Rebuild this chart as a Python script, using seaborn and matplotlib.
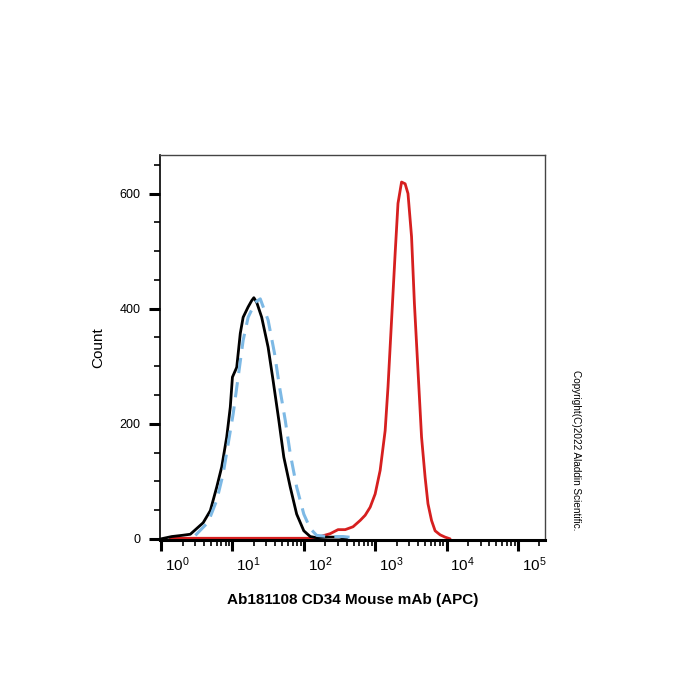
import matplotlib
matplotlib.use("Agg")
import matplotlib.pyplot as plt
import matplotlib.transforms as mtransforms
from matplotlib.ticker import MultipleLocator, LogLocator, FixedLocator, NullFormatter
import numpy as np
import pandas as pd
import seaborn as sns

# curves: x in decades (log10 of intensity), y = count
black_log = [0.00, 0.15, 0.29, 0.41, 0.50, 0.59, 0.69, 0.78, 0.85, 0.92, 0.97, 1.00, 1.06,
             1.11, 1.15, 1.22, 1.27, 1.30, 1.34, 1.41, 1.50, 1.57, 1.65, 1.72, 1.81, 1.90,
             2.00, 2.09, 2.18, 2.35, 2.50, 2.60]
black_cnt = [0, 4, 6, 8, 18, 28, 49, 90, 125, 177, 229, 281, 298,
             357, 385, 403, 414, 419, 411, 385, 333, 275, 206, 142, 90, 43,
             14, 4, 2, 3, 3, 0]

blue_log = [0.48, 0.66, 0.78, 0.87, 0.94, 1.01, 1.08, 1.15, 1.22, 1.32, 1.39, 1.50, 1.59,
            1.66, 1.74, 1.81, 1.90, 2.00, 2.09, 2.18, 2.35, 2.55, 2.70]
blue_cnt = [6, 29, 67, 113, 165, 217, 281, 345, 385, 411, 417, 380, 322,
            264, 206, 148, 90, 43, 18, 6, 4, 4, 2]

red_log = [0.13, 1.00, 2.10, 2.23, 2.37, 2.48, 2.58, 2.69, 2.79, 2.86, 2.93, 3.00, 3.07,
           3.14, 3.18, 3.23, 3.28, 3.32, 3.37, 3.42, 3.46, 3.51, 3.55, 3.60, 3.65, 3.70,
           3.74, 3.79, 3.84, 3.91, 3.98, 4.05]
red_cnt = [1, 1, 1, 4, 9, 16, 16, 21, 32, 41, 55, 78, 119,
           188, 264, 380, 496, 583, 620, 617, 600, 525, 409, 293, 177, 107,
           61, 32, 14, 7, 3, 0]

y_ticks = [0, 200, 400, 600]
x_decades = [0, 1, 2, 3, 4, 5]
x_label = "Ab181108 CD34 Mouse mAb (APC)"
y_label = "Count"
note = "Copyright(C)2022 Aladdin Scientific."

sns.set_style("ticks")
plt.rcParams["font.family"] = ["Liberation Sans", "DejaVu Sans"]
plt.rcParams["mathtext.fontset"] = "custom"
plt.rcParams["mathtext.rm"] = "Liberation Sans"
plt.rcParams["mathtext.it"] = "Liberation Sans"
plt.rcParams["text.color"] = "black"
plt.rcParams["axes.labelcolor"] = "black"
plt.rcParams["xtick.color"] = "black"
plt.rcParams["ytick.color"] = "black"

fig = plt.figure(figsize=(7, 7), dpi=100)
ax = fig.add_axes([160 / 700, 160 / 700, 385 / 700, 385 / 700])

sns.lineplot(x=10 ** np.array(red_log), y=red_cnt, ax=ax, color="#d61f1f", lw=2.0, sort=False)
sns.lineplot(x=10 ** np.array(black_log), y=black_cnt, ax=ax, color="black", lw=2.0, sort=False)
sns.lineplot(x=10 ** np.array(blue_log), y=blue_cnt, ax=ax, color="#7db9e5", lw=2.2,
             sort=False, dashes=False, linestyle=(0, (5, 3)))

ax.set_xscale("log")
ax.set_xlim(10 ** -0.015, 10 ** 5.38)
ax.set_ylim(-2, 667)

ax.xaxis.set_major_locator(FixedLocator([10.0 ** d for d in x_decades]))
ax.set_xticklabels([r"$10^{%d}$" % d for d in x_decades], fontsize=11)
ax.xaxis.set_minor_locator(LogLocator(base=10, subs=np.arange(2, 10), numticks=20))
ax.xaxis.set_minor_formatter(NullFormatter())
ax.set_yticks(y_ticks)
ax.set_yticklabels([str(v) for v in y_ticks], fontsize=9)
ax.yaxis.set_minor_locator(MultipleLocator(50))

ax.tick_params(axis="both", which="major", direction="out", length=8, width=2.2, color="black")
ax.tick_params(axis="both", which="minor", direction="out", length=4.5, width=1.2, color="black")
ax.tick_params(axis="x", which="major", pad=3)
ax.tick_params(axis="y", which="major", pad=6)

# labels of the log axis sit to the right of their ticks in the original
shift = mtransforms.ScaledTranslation(16 / 100, 0, fig.dpi_scale_trans)
for lab in ax.get_xticklabels():
    lab.set_transform(lab.get_transform() + shift)

ax.spines["left"].set_linewidth(1.2)
ax.spines["left"].set_color("black")
ax.spines["bottom"].set_linewidth(2.2)
ax.spines["bottom"].set_color("black")
for s in ["top", "right"]:
    ax.spines[s].set_visible(True)
    ax.spines[s].set_linewidth(1.0)
    ax.spines[s].set_color("#444444")

ax.set_xlabel(x_label, fontsize=11, fontweight="bold", labelpad=14)
ax.set_ylabel(y_label, fontsize=11, labelpad=10)

fig.text(576 / 700, 1 - 450 / 700, note, rotation=-90, fontsize=7.2,
         ha="center", va="center")

fig.savefig("out.png", dpi=100, facecolor="white")
